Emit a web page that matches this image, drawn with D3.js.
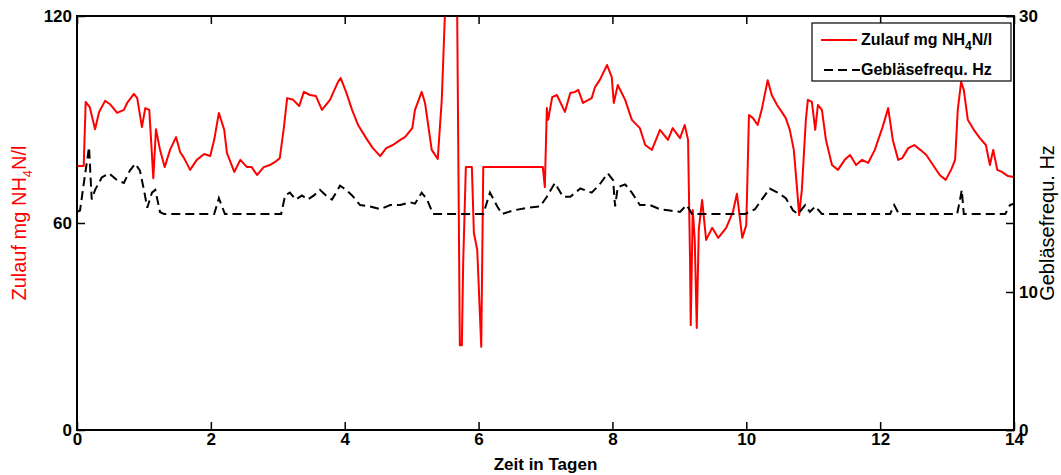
<!DOCTYPE html>
<html><head><meta charset="utf-8">
<script src="https://cdn.jsdelivr.net/npm/d3@7"></script>
<style>
body{margin:0;background:#fff}
svg{display:block}
text{font-family:"Liberation Sans",Arial,Helvetica,sans-serif}
</style>
</head><body>
<svg id="chart" width="1061" height="475"></svg>
<script>
// ---- data (days, value) ----
const zulauf = [[0,76.5],[0.10,76.5],[0.13,95.1],[0.19,93.6],[0.27,87.2],[0.33,92.2],[0.42,95.4],[0.49,94.5],[0.60,91.9],[0.70,92.8],[0.75,94.8],[0.85,97.4],[0.90,96.2],[0.97,87.8],[1.02,93.3],[1.08,92.8],[1.14,73.0],[1.18,87.2],[1.24,81.2],[1.31,76.2],[1.39,81.2],[1.48,84.9],[1.54,80.6],[1.60,78.8],[1.69,75.4],[1.79,78.3],[1.90,80.0],[1.99,79.4],[2.05,84.1],[2.12,91.9],[2.20,87.0],[2.24,80.3],[2.35,74.8],[2.44,78.3],[2.54,76.2],[2.61,76.2],[2.69,73.9],[2.79,76.2],[2.88,76.8],[2.96,77.7],[3.03,78.8],[3.09,87.5],[3.14,96.2],[3.23,95.7],[3.32,93.9],[3.39,98.0],[3.48,97.1],[3.57,96.8],[3.66,92.8],[3.78,95.7],[3.90,100.9],[3.94,102.0],[4.02,98.0],[4.11,92.8],[4.20,88.4],[4.32,84.6],[4.42,81.7],[4.53,79.4],[4.62,81.7],[4.72,82.6],[4.83,84.1],[4.90,84.9],[5.01,87.5],[5.05,92.8],[5.15,98.0],[5.20,94.8],[5.30,81.2],[5.39,78.6],[5.45,95.7],[5.50,122],[5.57,140],[5.65,140],[5.68,122],[5.72,24.6],[5.75,24.6],[5.77,48.4],[5.81,76.2],[5.90,76.2],[5.93,57.1],[5.98,52.2],[6.04,24.1],[6.07,76.2],[6.96,76.2],[6.99,70.4],[7.02,93.3],[7.04,89.9],[7.10,96.5],[7.17,97.1],[7.29,92.2],[7.37,97.7],[7.44,98.0],[7.49,98.6],[7.56,94.8],[7.69,96.2],[7.74,99.4],[7.81,101.4],[7.92,105.8],[7.99,102.3],[8.02,94.8],[8.08,100.0],[8.19,95.7],[8.29,89.9],[8.41,87.5],[8.49,82.6],[8.59,81.2],[8.71,87.0],[8.83,84.1],[8.90,87.5],[9.01,84.6],[9.08,88.4],[9.13,84.1],[9.16,48.7],[9.17,30.4],[9.20,63.8],[9.23,55.1],[9.26,29.6],[9.29,58.0],[9.34,66.7],[9.40,55.1],[9.49,58.6],[9.58,55.7],[9.70,58.6],[9.80,63.2],[9.86,68.5],[9.94,55.7],[10.0,59.4],[10.04,91.3],[10.10,90.4],[10.17,88.4],[10.23,92.8],[10.32,101.4],[10.38,97.1],[10.46,94.2],[10.53,92.2],[10.59,90.4],[10.65,87.0],[10.71,81.2],[10.76,69.6],[10.79,62.3],[10.83,69.6],[10.89,89.9],[10.92,95.7],[10.98,95.1],[11.03,87.0],[11.07,94.2],[11.13,92.8],[11.19,84.1],[11.28,76.8],[11.37,75.4],[11.47,78.3],[11.55,79.7],[11.64,76.8],[11.73,78.3],[11.82,77.4],[11.92,81.2],[12.04,88.0],[12.12,93.3],[12.19,84.0],[12.27,78.3],[12.33,78.8],[12.42,81.7],[12.51,82.6],[12.60,81.2],[12.69,79.7],[12.79,76.8],[12.89,73.9],[12.98,72.5],[13.06,75.4],[13.12,78.3],[13.16,92.8],[13.21,100.9],[13.25,98.6],[13.31,89.9],[13.40,87.0],[13.49,84.6],[13.58,82.6],[13.64,76.8],[13.69,81.2],[13.75,75.4],[13.82,74.8],[13.91,73.6],[14.0,73.3]];

const geblaese = [[0,15.8],[0.045,15.9],[0.12,18.5],[0.18,20.5],[0.22,16.7],[0.27,17.4],[0.37,18.3],[0.48,18.6],[0.60,18.1],[0.70,17.9],[0.79,18.8],[0.87,19.3],[0.94,18.8],[1.00,17.4],[1.05,16.1],[1.12,17.2],[1.17,17.4],[1.24,15.8],[1.30,15.65],[2.05,15.65],[2.12,16.8],[2.21,15.65],[3.05,15.65],[3.11,17.0],[3.18,17.2],[3.27,16.7],[3.36,17.0],[3.45,16.7],[3.54,17.0],[3.63,17.4],[3.72,17.0],[3.81,16.7],[3.93,17.7],[4.02,17.4],[4.11,17.0],[4.23,16.3],[4.38,16.2],[4.53,16.0],[4.68,16.3],[4.83,16.3],[4.98,16.5],[5.05,16.4],[5.15,17.2],[5.23,16.7],[5.32,15.65],[6.07,15.65],[6.17,17.2],[6.28,16.2],[6.35,15.65],[6.51,15.9],[6.72,16.1],[6.92,16.2],[7.02,16.9],[7.14,17.9],[7.26,16.9],[7.37,16.9],[7.52,17.5],[7.69,17.2],[7.81,17.8],[7.93,18.6],[8.01,18.1],[8.04,16.2],[8.08,17.6],[8.19,17.8],[8.29,17.2],[8.41,16.3],[8.56,16.3],[8.71,16.0],[8.86,15.9],[9.01,15.8],[9.11,16.3],[9.19,15.65],[9.98,15.65],[10.13,16.0],[10.23,16.7],[10.35,17.5],[10.47,17.2],[10.59,16.8],[10.70,15.9],[10.77,15.65],[10.88,16.3],[10.95,15.8],[11.03,16.2],[11.13,15.65],[12.15,15.65],[12.21,16.3],[12.28,15.65],[13.15,15.65],[13.19,16.6],[13.22,17.4],[13.25,15.65],[13.87,15.65],[13.94,16.3],[14.0,16.4]];

const xTickValues = [0,2,4,6,8,10,12,14];
const leftTickValues = [0,60,120];
const rightTickValues = [0,10,30];
const xLabel = "Zeit in Tagen";
const seriesNames = ["Zulauf mg NH", "4", "N/l", "Gebläsefrequ. Hz"];

// ---- layout ----
const L = 77, R = 1014, T = 16, B = 430;
const svg = d3.select("#chart");

const x = d3.scaleLinear().domain([0,14]).range([L,R]);
const yL = d3.scaleLinear().domain([0,120]).range([B,T]);
const yR = d3.scaleLinear().domain([0,30]).range([B,T]);

svg.append("defs").append("clipPath").attr("id","clip")
  .append("rect").attr("x",L).attr("y",T).attr("width",R-L).attr("height",B-T);

const lineL = d3.line().x(d=>x(d[0])).y(d=>yL(d[1]));
const lineR = d3.line().x(d=>x(d[0])).y(d=>yR(d[1]));

const plot = svg.append("g").attr("clip-path","url(#clip)");
plot.append("path").datum(zulauf).attr("d",lineL)
  .attr("fill","none").attr("stroke","#ff0000").attr("stroke-width",2).attr("stroke-linejoin","round");
plot.append("path").datum(geblaese).attr("d",lineR)
  .attr("fill","none").attr("stroke","#000").attr("stroke-width",2)
  .attr("stroke-dasharray","9,5");

const tickFont = "'Liberation Sans Narrow','Liberation Sans',Arial,sans-serif";
function styleAxis(g, showLabels){
  g.select(".domain").remove();
  g.selectAll(".tick line").attr("stroke","#000").attr("stroke-width",1.5);
  g.selectAll(".tick text").attr("font-size","17px").attr("font-weight","bold").attr("fill","#000")
    .style("font-family",tickFont);
  if(!showLabels) g.selectAll(".tick text").remove();
}
const fmt = d3.format("d");
svg.append("g").attr("transform",`translate(0,${B})`)
  .call(d3.axisBottom(x).tickValues(xTickValues).tickFormat(fmt).tickSizeInner(-8).tickSizeOuter(0).tickPadding(3))
  .call(g=>styleAxis(g,true));
svg.append("g").attr("transform",`translate(0,${T})`)
  .call(d3.axisTop(x).tickValues(xTickValues).tickSizeInner(-8).tickSizeOuter(0))
  .call(g=>styleAxis(g,false));
svg.append("g").attr("transform",`translate(${L},0)`)
  .call(d3.axisLeft(yL).tickValues(leftTickValues).tickFormat(fmt).tickSizeInner(-8).tickSizeOuter(0).tickPadding(5))
  .call(g=>styleAxis(g,true));
svg.append("g").attr("transform",`translate(${R},0)`)
  .call(d3.axisRight(yL).tickValues(leftTickValues).tickSizeInner(-8).tickSizeOuter(0))
  .call(g=>styleAxis(g,false));
svg.append("g").attr("transform",`translate(${R},0)`)
  .call(d3.axisRight(yR).tickValues(rightTickValues).tickFormat(fmt).tickSizeInner(-8).tickSizeOuter(0).tickPadding(5))
  .call(g=>styleAxis(g,true));

svg.append("rect").attr("x",L).attr("y",T).attr("width",R-L).attr("height",B-T)
  .attr("fill","none").attr("stroke","#000").attr("stroke-width",2);

svg.append("text").attr("x",(L+R)/2).attr("y",470).attr("text-anchor","middle")
  .attr("font-size","17px").attr("font-weight","bold").text(xLabel);

const yl = svg.append("text").attr("transform",`translate(26,${(T+B)/2}) rotate(-90)`)
  .attr("text-anchor","middle").attr("font-size","20px").attr("fill","#ff0000");
yl.append("tspan").text(seriesNames[0]);
yl.append("tspan").attr("dy",6).attr("font-size","13px").text(seriesNames[1]);
yl.append("tspan").attr("dy",-6).text(seriesNames[2]);

svg.append("text").attr("transform",`translate(1054,${(T+B)/2}) rotate(-90)`)
  .attr("text-anchor","middle").attr("font-size","20px").attr("fill","#000").text(seriesNames[3]);

const lg = svg.append("g");
lg.append("rect").attr("x",812).attr("y",23).attr("width",199).attr("height",58)
  .attr("fill","#fff").attr("stroke","#000").attr("stroke-width",1.2);
lg.append("line").attr("x1",821).attr("x2",857).attr("y1",40).attr("y2",40)
  .attr("stroke","#ff0000").attr("stroke-width",2);
lg.append("line").attr("x1",824).attr("x2",860).attr("y1",70).attr("y2",70)
  .attr("stroke","#000").attr("stroke-width",2).attr("stroke-dasharray","9,5");
const t1 = lg.append("text").attr("x",861).attr("y",45).attr("font-size","16px").attr("font-weight","bold");
t1.append("tspan").text(seriesNames[0]);
t1.append("tspan").attr("dy",5).attr("font-size","12px").text(seriesNames[1]);
t1.append("tspan").attr("dy",-5).text(seriesNames[2]);
lg.append("text").attr("x",861).attr("y",75).attr("font-size","16px").attr("font-weight","bold").text(seriesNames[3]);
</script>
</body></html>
